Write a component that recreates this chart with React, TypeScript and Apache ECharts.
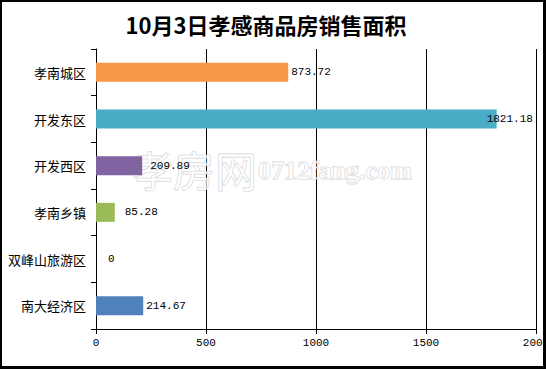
import React, { useEffect, useRef } from "react";
import * as echarts from "echarts";

const titleText = "10月3日孝感商品房销售面积";
const categories = ["孝南城区", "开发东区", "开发西区", "孝南乡镇", "双峰山旅游区", "南大经济区"];
const areaValues = [873.72, 1821.18, 209.89, 85.28, 0, 214.67];
const xTicks = { min: 0, max: 2000, interval: 500 };

const barColors = ["#F79646", "#4BACC6", "#8064A2", "#9BBB59", "#4F81BD", "#4F81BD"];
const labelShift = [3, -10, 8, 10, 12, 3];

export default function App() {
  const ref = useRef<HTMLDivElement>(null);
  useEffect(() => {
    if (!ref.current) return;
    const chart = echarts.init(ref.current, null, { renderer: "svg" });
    const data = areaValues.map((v, i) => ({
      value: v,
      itemStyle: { color: barColors[i] },
      label: { offset: [labelShift[i], 0] },
    }));
    chart.setOption({
      animation: false,
      backgroundColor: "#ffffff",
      grid: { left: 96, right: 10, top: 49, bottom: 40, containLabel: false, outerBoundsMode: "none" },
      xAxis: {
        type: "value",
        min: xTicks.min,
        max: xTicks.max,
        interval: xTicks.interval,
        axisLine: { show: true, lineStyle: { color: "#000", width: 1 } },
        axisTick: { show: true, length: 5, lineStyle: { color: "#000" } },
        splitLine: { show: true, lineStyle: { color: "#000", width: 1 } },
        axisLabel: {
          color: "#000",
          fontSize: 11,
          margin: 8,
          fontFamily: "Liberation Mono",
          formatter: (v: number) => String(v),
          hideOverlap: false,
        },
      },
      yAxis: {
        type: "category",
        inverse: true,
        data: categories,
        axisLine: { show: true, lineStyle: { color: "#000", width: 1 } },
        axisTick: { show: true, length: 5, lineStyle: { color: "#000" } },
        splitLine: { show: false },
        axisLabel: { color: "#000", fontSize: 13, margin: 10, fontFamily: "Noto Sans CJK SC" },
      },
      series: [
        {
          type: "bar",
          data,
          barWidth: 19,
          z: 3,
          label: {
            show: true,
            position: "right",
            distance: 0,
            color: "#000",
            fontSize: 11,
            fontFamily: "Liberation Mono",
          },
        },
      ],
      graphic: [
        {
          type: "text",
          x: 266,
          y: 24,
          z: 10,
          style: {
            text: titleText,
            align: "center",
            verticalAlign: "middle",
            fill: "#000",
            font: "bold 22px 'Noto Sans CJK SC'",
          },
        },
        {
          type: "text",
          x: 131,
          y: 168,
          z: 1,
          style: {
            text: "孝房网",
            align: "left",
            verticalAlign: "middle",
            fill: "rgba(255,255,255,0.7)",
            stroke: "rgba(200,200,200,0.85)",
            lineWidth: 1,
            font: "42px 'Noto Sans CJK SC'",
          },
        },
        {
          type: "text",
          x: 258,
          y: 170,
          z: 1,
          style: {
            text: "0712fang.com",
            align: "left",
            verticalAlign: "middle",
            fill: "rgba(255,255,255,0.7)",
            stroke: "rgba(200,200,200,0.85)",
            lineWidth: 1,
            font: "bold 26px 'Liberation Serif'",
          },
        },
        { type: "rect", z: 20, shape: { x: 0, y: 0, width: 2, height: 369 }, style: { fill: "#000" } },
        { type: "rect", z: 20, shape: { x: 0, y: 0, width: 546, height: 2 }, style: { fill: "#000" } },
        { type: "rect", z: 20, shape: { x: 543, y: 0, width: 3, height: 369 }, style: { fill: "#000" } },
        { type: "rect", z: 20, shape: { x: 0, y: 366, width: 546, height: 3 }, style: { fill: "#000" } },
      ],
    });
    return () => chart.dispose();
  }, []);
  return (
    <div
      ref={ref}
      style={{ position: "absolute", left: 0, top: 0, width: 546, height: 369, overflow: "hidden" }}
    />
  );
}
